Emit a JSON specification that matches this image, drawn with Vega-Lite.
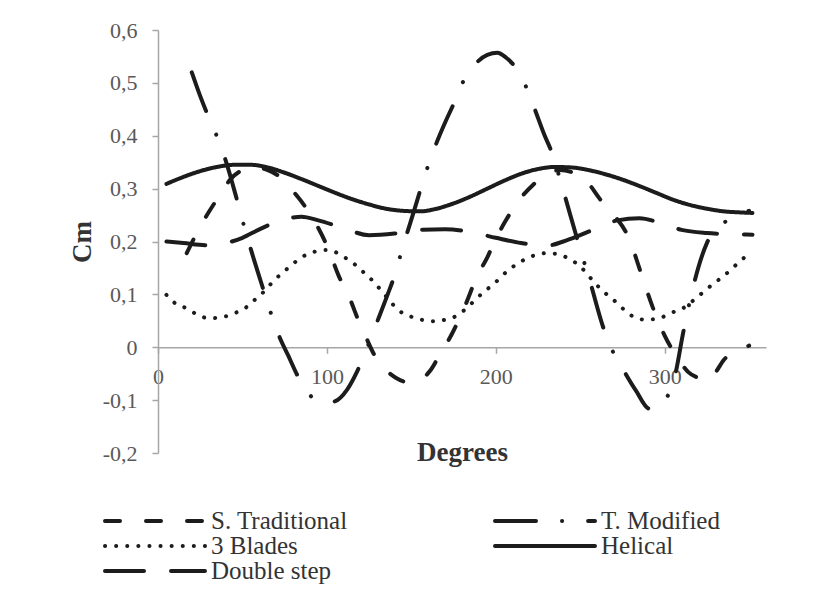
{
  "$schema": "https://vega.github.io/schema/vega-lite/v6.json",
  "autosize": "none",
  "width": 608,
  "height": 423,
  "padding": {"left": 158, "top": 30, "right": 51, "bottom": 136},
  "background": "white",
  "config": {
    "view": {"stroke": null},
    "axis": {"grid": false, "domainColor": "#a6a6a6", "domainWidth": 1.5, "tickColor": "#a6a6a6", "tickWidth": 1.5, "tickSize": 6, "labelFont": "Liberation Serif", "labelFontSize": 22, "labelColor": "#595959", "titleFont": "Liberation Serif", "titleFontSize": 27, "titleFontWeight": "bold", "titleColor": "#333333"}
  },
  "data": {"values": [
    {"s": "Helical", "d": 5, "v": 0.309}, {"s": "Helical", "d": 15, "v": 0.322}, {"s": "Helical", "d": 25, "v": 0.333}, {"s": "Helical", "d": 35, "v": 0.341}, {"s": "Helical", "d": 45, "v": 0.345}, {"s": "Helical", "d": 55, "v": 0.345}, {"s": "Helical", "d": 65, "v": 0.34}, {"s": "Helical", "d": 75, "v": 0.33}, {"s": "Helical", "d": 85, "v": 0.318}, {"s": "Helical", "d": 95, "v": 0.305}, {"s": "Helical", "d": 105, "v": 0.292}, {"s": "Helical", "d": 115, "v": 0.28}, {"s": "Helical", "d": 125, "v": 0.27}, {"s": "Helical", "d": 135, "v": 0.262}, {"s": "Helical", "d": 145, "v": 0.258}, {"s": "Helical", "d": 155, "v": 0.257}, {"s": "Helical", "d": 165, "v": 0.262}, {"s": "Helical", "d": 175, "v": 0.272}, {"s": "Helical", "d": 185, "v": 0.285}, {"s": "Helical", "d": 195, "v": 0.3}, {"s": "Helical", "d": 205, "v": 0.315}, {"s": "Helical", "d": 215, "v": 0.328}, {"s": "Helical", "d": 225, "v": 0.337}, {"s": "Helical", "d": 235, "v": 0.341}, {"s": "Helical", "d": 245, "v": 0.34}, {"s": "Helical", "d": 255, "v": 0.335}, {"s": "Helical", "d": 265, "v": 0.327}, {"s": "Helical", "d": 275, "v": 0.317}, {"s": "Helical", "d": 285, "v": 0.305}, {"s": "Helical", "d": 295, "v": 0.292}, {"s": "Helical", "d": 305, "v": 0.279}, {"s": "Helical", "d": 315, "v": 0.269}, {"s": "Helical", "d": 325, "v": 0.262}, {"s": "Helical", "d": 335, "v": 0.257}, {"s": "Helical", "d": 345, "v": 0.255}, {"s": "Helical", "d": 352, "v": 0.254},

    {"s": "3 Blades", "d": 5, "v": 0.099}, {"s": "3 Blades", "d": 9, "v": 0.086}, {"s": "3 Blades", "d": 18, "v": 0.072}, {"s": "3 Blades", "d": 24, "v": 0.06}, {"s": "3 Blades", "d": 31, "v": 0.055}, {"s": "3 Blades", "d": 38, "v": 0.057}, {"s": "3 Blades", "d": 45, "v": 0.064}, {"s": "3 Blades", "d": 52, "v": 0.075}, {"s": "3 Blades", "d": 57, "v": 0.089}, {"s": "3 Blades", "d": 63, "v": 0.106}, {"s": "3 Blades", "d": 68, "v": 0.124}, {"s": "3 Blades", "d": 73, "v": 0.139}, {"s": "3 Blades", "d": 79, "v": 0.155}, {"s": "3 Blades", "d": 84, "v": 0.168}, {"s": "3 Blades", "d": 92, "v": 0.18}, {"s": "3 Blades", "d": 100, "v": 0.184}, {"s": "3 Blades", "d": 105, "v": 0.18}, {"s": "3 Blades", "d": 110, "v": 0.171}, {"s": "3 Blades", "d": 116, "v": 0.158}, {"s": "3 Blades", "d": 122, "v": 0.141}, {"s": "3 Blades", "d": 127, "v": 0.126}, {"s": "3 Blades", "d": 132, "v": 0.108}, {"s": "3 Blades", "d": 137, "v": 0.089}, {"s": "3 Blades", "d": 142, "v": 0.071}, {"s": "3 Blades", "d": 149, "v": 0.059}, {"s": "3 Blades", "d": 156, "v": 0.052}, {"s": "3 Blades", "d": 163, "v": 0.049}, {"s": "3 Blades", "d": 170, "v": 0.052}, {"s": "3 Blades", "d": 177, "v": 0.06}, {"s": "3 Blades", "d": 182, "v": 0.072}, {"s": "3 Blades", "d": 187, "v": 0.087}, {"s": "3 Blades", "d": 193, "v": 0.105}, {"s": "3 Blades", "d": 199, "v": 0.12}, {"s": "3 Blades", "d": 204, "v": 0.136}, {"s": "3 Blades", "d": 210, "v": 0.152}, {"s": "3 Blades", "d": 216, "v": 0.164}, {"s": "3 Blades", "d": 223, "v": 0.174}, {"s": "3 Blades", "d": 230, "v": 0.178}, {"s": "3 Blades", "d": 237, "v": 0.176}, {"s": "3 Blades", "d": 244, "v": 0.166}, {"s": "3 Blades", "d": 250, "v": 0.153}, {"s": "3 Blades", "d": 255, "v": 0.135}, {"s": "3 Blades", "d": 260, "v": 0.117}, {"s": "3 Blades", "d": 265, "v": 0.102}, {"s": "3 Blades", "d": 271, "v": 0.086}, {"s": "3 Blades", "d": 276, "v": 0.071}, {"s": "3 Blades", "d": 282, "v": 0.057}, {"s": "3 Blades", "d": 289, "v": 0.052}, {"s": "3 Blades", "d": 297, "v": 0.055}, {"s": "3 Blades", "d": 303, "v": 0.064}, {"s": "3 Blades", "d": 311, "v": 0.074}, {"s": "3 Blades", "d": 316, "v": 0.086}, {"s": "3 Blades", "d": 322, "v": 0.102}, {"s": "3 Blades", "d": 328, "v": 0.118}, {"s": "3 Blades", "d": 333, "v": 0.13}, {"s": "3 Blades", "d": 339, "v": 0.146}, {"s": "3 Blades", "d": 344, "v": 0.161}, {"s": "3 Blades", "d": 350, "v": 0.177},

    {"s": "Double step", "d": 5, "v": 0.2}, {"s": "Double step", "d": 15, "v": 0.197}, {"s": "Double step", "d": 30, "v": 0.193}, {"s": "Double step", "d": 40, "v": 0.197}, {"s": "Double step", "d": 50, "v": 0.207}, {"s": "Double step", "d": 60, "v": 0.223}, {"s": "Double step", "d": 73, "v": 0.24}, {"s": "Double step", "d": 85, "v": 0.247}, {"s": "Double step", "d": 95, "v": 0.24}, {"s": "Double step", "d": 110, "v": 0.225}, {"s": "Double step", "d": 125, "v": 0.212}, {"s": "Double step", "d": 140, "v": 0.215}, {"s": "Double step", "d": 155, "v": 0.222}, {"s": "Double step", "d": 170, "v": 0.223}, {"s": "Double step", "d": 185, "v": 0.218}, {"s": "Double step", "d": 200, "v": 0.207}, {"s": "Double step", "d": 215, "v": 0.197}, {"s": "Double step", "d": 230, "v": 0.192}, {"s": "Double step", "d": 240, "v": 0.2}, {"s": "Double step", "d": 250, "v": 0.212}, {"s": "Double step", "d": 262, "v": 0.228}, {"s": "Double step", "d": 272, "v": 0.24}, {"s": "Double step", "d": 285, "v": 0.244}, {"s": "Double step", "d": 300, "v": 0.232}, {"s": "Double step", "d": 310, "v": 0.222}, {"s": "Double step", "d": 325, "v": 0.216}, {"s": "Double step", "d": 340, "v": 0.214}, {"s": "Double step", "d": 352, "v": 0.213},

    {"s": "S. Traditional", "d": 17, "v": 0.178}, {"s": "S. Traditional", "d": 22, "v": 0.21}, {"s": "S. Traditional", "d": 29, "v": 0.25}, {"s": "S. Traditional", "d": 36, "v": 0.285}, {"s": "S. Traditional", "d": 43, "v": 0.318}, {"s": "S. Traditional", "d": 50, "v": 0.335}, {"s": "S. Traditional", "d": 57, "v": 0.34}, {"s": "S. Traditional", "d": 65, "v": 0.335}, {"s": "S. Traditional", "d": 73, "v": 0.32}, {"s": "S. Traditional", "d": 80, "v": 0.295}, {"s": "S. Traditional", "d": 88, "v": 0.262}, {"s": "S. Traditional", "d": 95, "v": 0.225}, {"s": "S. Traditional", "d": 101, "v": 0.185}, {"s": "S. Traditional", "d": 107, "v": 0.135}, {"s": "S. Traditional", "d": 113, "v": 0.097}, {"s": "S. Traditional", "d": 118, "v": 0.056}, {"s": "S. Traditional", "d": 123, "v": 0.02}, {"s": "S. Traditional", "d": 128, "v": -0.014}, {"s": "S. Traditional", "d": 134, "v": -0.04}, {"s": "S. Traditional", "d": 141, "v": -0.058}, {"s": "S. Traditional", "d": 148, "v": -0.066}, {"s": "S. Traditional", "d": 155, "v": -0.062}, {"s": "S. Traditional", "d": 161, "v": -0.045}, {"s": "S. Traditional", "d": 167, "v": -0.013}, {"s": "S. Traditional", "d": 174, "v": 0.025}, {"s": "S. Traditional", "d": 182, "v": 0.08}, {"s": "S. Traditional", "d": 189, "v": 0.135}, {"s": "S. Traditional", "d": 195, "v": 0.17}, {"s": "S. Traditional", "d": 200, "v": 0.205}, {"s": "S. Traditional", "d": 206, "v": 0.24}, {"s": "S. Traditional", "d": 213, "v": 0.275}, {"s": "S. Traditional", "d": 222, "v": 0.307}, {"s": "S. Traditional", "d": 230, "v": 0.327}, {"s": "S. Traditional", "d": 238, "v": 0.335}, {"s": "S. Traditional", "d": 246, "v": 0.33}, {"s": "S. Traditional", "d": 254, "v": 0.313}, {"s": "S. Traditional", "d": 262, "v": 0.279}, {"s": "S. Traditional", "d": 270, "v": 0.25}, {"s": "S. Traditional", "d": 279, "v": 0.205}, {"s": "S. Traditional", "d": 286, "v": 0.14}, {"s": "S. Traditional", "d": 293, "v": 0.075}, {"s": "S. Traditional", "d": 300, "v": 0.022}, {"s": "S. Traditional", "d": 308, "v": -0.022}, {"s": "S. Traditional", "d": 314, "v": -0.047}, {"s": "S. Traditional", "d": 320, "v": -0.058}, {"s": "S. Traditional", "d": 325, "v": -0.063}, {"s": "S. Traditional", "d": 330, "v": -0.048}, {"s": "S. Traditional", "d": 335, "v": -0.024}, {"s": "S. Traditional", "d": 344, "v": -0.006}, {"s": "S. Traditional", "d": 350, "v": 0.003},

    {"s": "T. Modified", "d": 20, "v": 0.52}, {"s": "T. Modified", "d": 25, "v": 0.475}, {"s": "T. Modified", "d": 30, "v": 0.435}, {"s": "T. Modified", "d": 35, "v": 0.398}, {"s": "T. Modified", "d": 40, "v": 0.354}, {"s": "T. Modified", "d": 47, "v": 0.276}, {"s": "T. Modified", "d": 51, "v": 0.229}, {"s": "T. Modified", "d": 55, "v": 0.185}, {"s": "T. Modified", "d": 63, "v": 0.103}, {"s": "T. Modified", "d": 67, "v": 0.063}, {"s": "T. Modified", "d": 72, "v": 0.019}, {"s": "T. Modified", "d": 77, "v": -0.015}, {"s": "T. Modified", "d": 83, "v": -0.056}, {"s": "T. Modified", "d": 91, "v": -0.094}, {"s": "T. Modified", "d": 97, "v": -0.105}, {"s": "T. Modified", "d": 104, "v": -0.103}, {"s": "T. Modified", "d": 112, "v": -0.08}, {"s": "T. Modified", "d": 118, "v": -0.045}, {"s": "T. Modified", "d": 124, "v": 0.0}, {"s": "T. Modified", "d": 130, "v": 0.05}, {"s": "T. Modified", "d": 136, "v": 0.1}, {"s": "T. Modified", "d": 140, "v": 0.135}, {"s": "T. Modified", "d": 145, "v": 0.19}, {"s": "T. Modified", "d": 152, "v": 0.262}, {"s": "T. Modified", "d": 158, "v": 0.325}, {"s": "T. Modified", "d": 164, "v": 0.379}, {"s": "T. Modified", "d": 170, "v": 0.425}, {"s": "T. Modified", "d": 175, "v": 0.46}, {"s": "T. Modified", "d": 180, "v": 0.498}, {"s": "T. Modified", "d": 188, "v": 0.536}, {"s": "T. Modified", "d": 195, "v": 0.553}, {"s": "T. Modified", "d": 201, "v": 0.557}, {"s": "T. Modified", "d": 206, "v": 0.548}, {"s": "T. Modified", "d": 211, "v": 0.532}, {"s": "T. Modified", "d": 218, "v": 0.492}, {"s": "T. Modified", "d": 223, "v": 0.451}, {"s": "T. Modified", "d": 229, "v": 0.4}, {"s": "T. Modified", "d": 233, "v": 0.37}, {"s": "T. Modified", "d": 237, "v": 0.329}, {"s": "T. Modified", "d": 241, "v": 0.285}, {"s": "T. Modified", "d": 248, "v": 0.207}, {"s": "T. Modified", "d": 256, "v": 0.122}, {"s": "T. Modified", "d": 264, "v": 0.034}, {"s": "T. Modified", "d": 269, "v": -0.006}, {"s": "T. Modified", "d": 275, "v": -0.04}, {"s": "T. Modified", "d": 283, "v": -0.082}, {"s": "T. Modified", "d": 291, "v": -0.116}, {"s": "T. Modified", "d": 296, "v": -0.115}, {"s": "T. Modified", "d": 301, "v": -0.097}, {"s": "T. Modified", "d": 306, "v": -0.055}, {"s": "T. Modified", "d": 311, "v": 0.028}, {"s": "T. Modified", "d": 317, "v": 0.116}, {"s": "T. Modified", "d": 325, "v": 0.197}, {"s": "T. Modified", "d": 334, "v": 0.232}, {"s": "T. Modified", "d": 342, "v": 0.25}, {"s": "T. Modified", "d": 350, "v": 0.258}
  ]},
  "mark": {"type": "line", "interpolate": "monotone", "color": "#1c1c1c", "strokeWidth": 4, "strokeCap": "round"},
  "encoding": {
    "x": {"field": "d", "type": "quantitative", "scale": {"domain": [0, 360], "nice": false},
      "axis": {"values": [0, 100, 200, 300], "offset": -105.75, "labelPadding": 13, "title": "Degrees", "titlePadding": 52, "labelFlush": false}},
    "y": {"field": "v", "type": "quantitative", "scale": {"domain": [-0.2, 0.6], "nice": false, "zero": false},
      "axis": {"values": [-0.2, -0.1, 0, 0.1, 0.2, 0.3, 0.4, 0.5, 0.6], "labelExpr": "datum.value == 0 ? '0' : replace(replace(format(datum.value, '.1f'), '.', ','), '\u2212', '-')", "labelPadding": 15, "title": "Cm", "titlePadding": 6}},
    "strokeDash": {"field": "s", "type": "nominal",
      "scale": {"domain": ["S. Traditional", "T. Modified", "3 Blades", "Helical", "Double step"], "range": [[15, 26], [41, 26, 0.1, 26], [0.1, 11], [1, 0], [39, 27]]},
      "legend": {"title": null, "orient": "none", "direction": "horizontal", "legendX": -55, "legendY": 479, "columns": 2, "columnPadding": 145, "rowPadding": 0, "clipHeight": 24, "symbolType": "stroke", "symbolSize": 10000, "symbolStrokeWidth": 4, "symbolStrokeColor": "#1c1c1c", "labelFont": "Liberation Serif", "labelFontSize": 25, "labelColor": "#333333", "labelOffset": 4,
        "encode": {"symbols": {"update": {"strokeCap": {"value": "round"}}}}}}
  }
}
